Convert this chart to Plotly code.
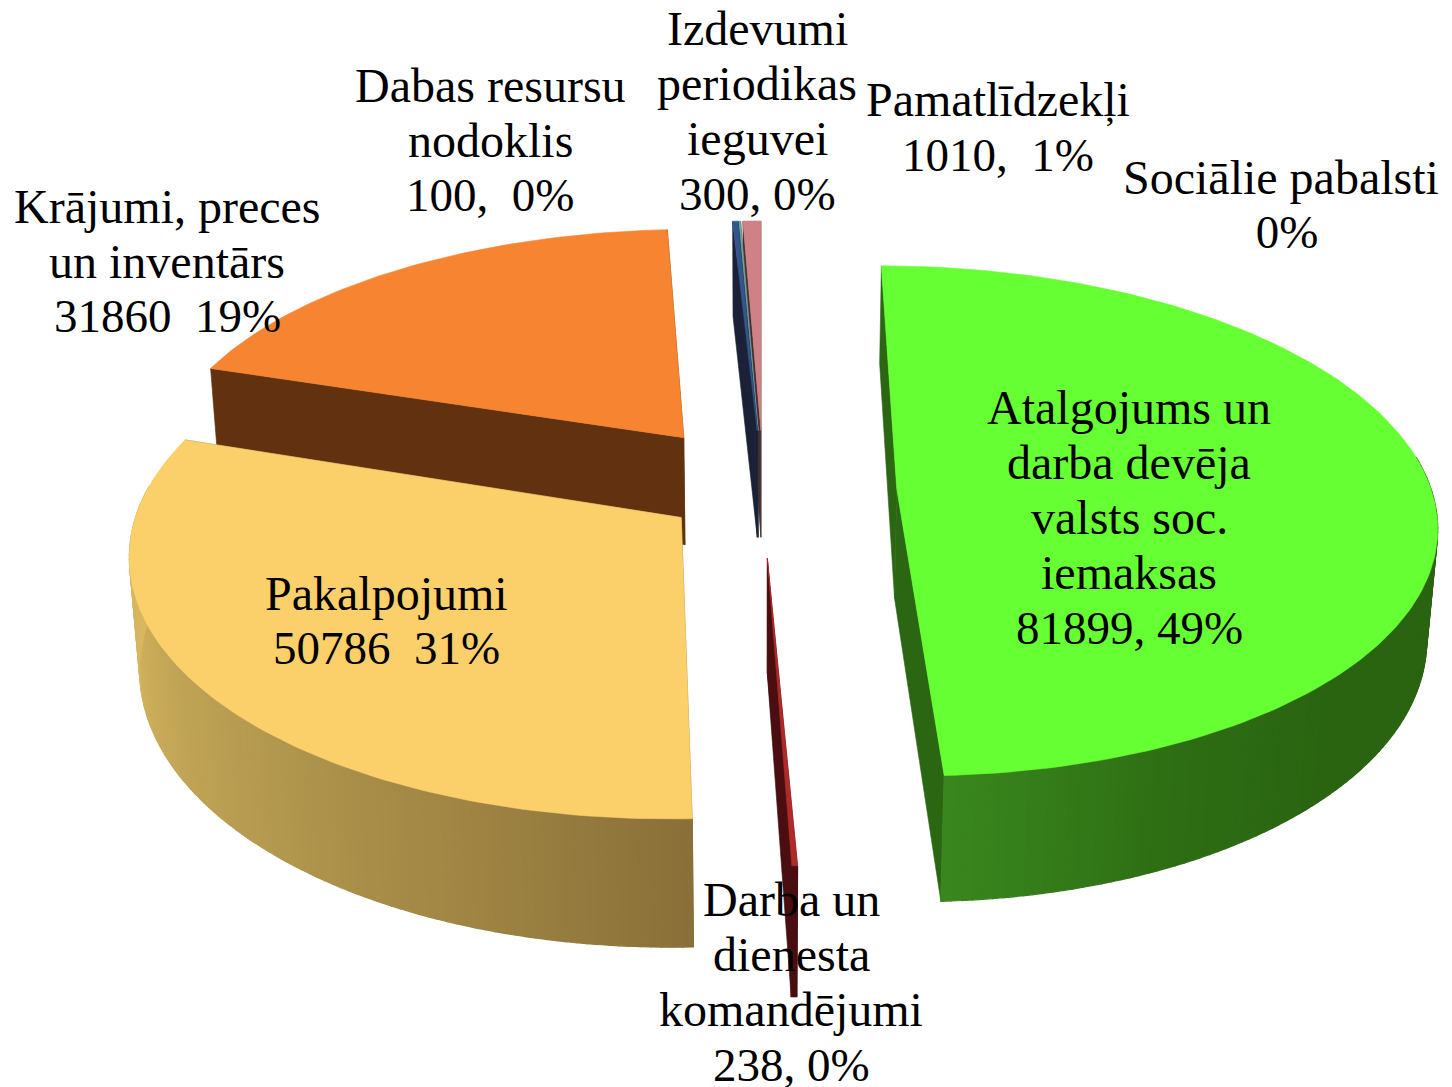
import math
import plotly.graph_objects as go

# ---- data (clockwise from 12 o'clock) ----
categories = ["Atalgojums un darba devēja valsts soc. iemaksas", "Darba un dienesta komandējumi",
              "Pakalpojumi", "Krājumi, preces un inventārs", "Izdevumi periodikas ieguvei",
              "Dabas resursu nodoklis", "Pamatlīdzekļi", "Sociālie pabalsti"]
values = [81899, 238, 50786, 31860, 300, 100, 1010, 0]
label_lines = [
    ["Atalgojums un", "darba devēja", "valsts soc.", "iemaksas", "81899, 49%"],
    ["Darba un", "dienesta", "komandējumi", "238, 0%"],
    ["Pakalpojumi", "50786\u00a0 31%"],
    ["Krājumi, preces", "un inventārs", "31860\u00a0 19%"],
    ["Izdevumi", "periodikas", "ieguvei", "300, 0%"],
    ["Dabas resursu", "nodoklis", "100,\u00a0 0%"],
    ["Pamatlīdzekļi", "1010,\u00a0 1%"],
    ["Sociālie pabalsti", "\u00a00%"],
]

# ---- styling / layout ----
W, H = 1452, 1087
CX, CY = 760, 490
A, B, P, DEPTH, CONVERGE = 541, 250, 0.126, 110, 0.000145
explode = [0.253, 0.265, 0.18, 0.259, 0.245, 0.245, 0.245, 0.245]
explode_turn = [0, -0.5, 0, 3.6, 1.5, 1.5, 1.5, 1.5]
radius_x = [0.988, 1, 0.995, 0.985, 1, 1, 1, 1]
radius_y = [1.005, 1, 1.02, 0.985, 1, 1, 1, 1]
top_colors = ["#66FF33", "#B02A2A", "#FBD06A", "#F68431", "#34568B", "#6FA3A0", "#CF8285", "#CF8285"]
side_colors = ["#2B6612", "#4A0E10", "#8A7038", "#623210", "#1B2238", "#2A3A3A", "#4A2E2E", "#4A2E2E"]
# wall gradient stops: (angle in degrees, colour) for the two big front walls
grad = {
    0: [(90, (42, 100, 17)), (135, (42, 100, 17)), (155, (46, 110, 20)), (177.5, (58, 135, 30))],
    2: [(178, (138, 112, 56)), (200, (160, 133, 68)), (230, (185, 158, 82)), (262, (215, 182, 95)), (288, (222, 186, 100))],
}
label_pos = [(1129, 407), (791, 899), (386, 593), (167, 206), (757, 28), (490, 85), (998, 100), (1281, 177)]
label_step = 55.2
FONT = dict(family="Liberation Serif", size=48, color="black")
FONT_NUM = dict(family="Liberation Serif", size=47, color="black")
draw_order = [7, 6, 5, 4, 3, 2, 0, 1]


def project(X, Y, Z=0.0):
    s = 1 / (1 + P * Y)
    x = CX + A * X * s
    return CX + (x - CX) * (1 - CONVERGE * Z * s), CY - B * Y * s + Z * s


def lerp_color(stops, ang):
    c = stops[0][1] if ang <= stops[0][0] else stops[-1][1]
    for (a0, c0), (a1, c1) in zip(stops, stops[1:]):
        if a0 <= ang <= a1:
            t = (ang - a0) / (a1 - a0)
            c = tuple(round(u + (v - u) * t) for u, v in zip(c0, c1))
            break
    return "rgb(%d,%d,%d)" % c


fig = go.Figure()


def poly(pts, color, name, lw=0.6):
    xs = [p[0] for p in pts] + [pts[0][0]]
    ys = [p[1] for p in pts] + [pts[0][1]]
    fig.add_trace(go.Scatter(x=xs, y=ys, mode="lines", fill="toself", fillcolor=color,
                             line=dict(color=color, width=lw), hoverinfo="text", text=name,
                             showlegend=False))


total = sum(values)
starts = []
acc = 0.0
for v in values:
    starts.append(acc / total * 360)
    acc += v

for i in draw_order:
    v = values[i]
    if v == 0:
        continue
    a0 = starts[i]
    a1 = a0 + v / total * 360
    mid = math.radians((a0 + a1) / 2 + explode_turn[i])
    ex, ey = explode[i] * math.sin(mid), explode[i] * math.cos(mid)
    n = max(2, int(a1 - a0) + 1)
    angs = [a0 + (a1 - a0) * k / n for k in range(n + 1)]
    rim = [(ex + radius_x[i] * math.sin(math.radians(a)), ey + radius_y[i] * math.cos(math.radians(a))) for a in angs]
    name = categories[i]
    # radial walls
    for rp in (rim[0], rim[-1]):
        poly([project(ex, ey), project(*rp), project(*rp, DEPTH), project(ex, ey, DEPTH)], side_colors[i], name)
    # outer wall strips
    for k in range(n):
        am = (angs[k] + angs[k + 1]) / 2
        if math.cos(math.radians(am)) > 0.12:
            continue
        col = lerp_color(grad[i], am) if i in grad else side_colors[i]
        p, q = rim[k], rim[k + 1]
        poly([project(*p), project(*q), project(*q, DEPTH), project(*p, DEPTH)], col, name, lw=1.2)
    # top face
    poly([project(ex, ey)] + [project(*c) for c in rim], top_colors[i], name)

for lines, (lx, ly) in zip(label_lines, label_pos):
    for j, line in enumerate(lines):
        fig.add_annotation(x=lx, y=ly + j * label_step, text=line, showarrow=False,
                           font=FONT_NUM if "%" in line else FONT,
                           xanchor="center", yanchor="middle", xref="x", yref="y")

fig.update_layout(width=W, height=H, margin=dict(l=0, r=0, t=0, b=0), paper_bgcolor="white",
                  plot_bgcolor="white", showlegend=False,
                  xaxis=dict(range=[0, W], visible=False, fixedrange=True),
                  yaxis=dict(range=[H, 0], visible=False, fixedrange=True))
fig.write_html("out.html", config=dict(displayModeBar=False),
               post_script="document.body.style.margin='0';document.body.style.overflow='hidden';")
